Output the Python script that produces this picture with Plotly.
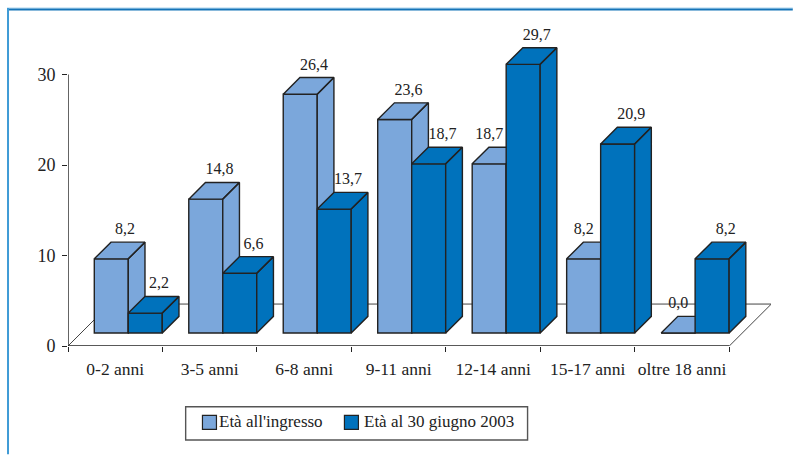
import plotly.graph_objects as go

# --- data ---
categories = ["0-2 anni", "3-5 anni", "6-8 anni", "9-11 anni", "12-14 anni", "15-17 anni", "oltre 18 anni"]
eta_ingresso = [8.2, 14.8, 26.4, 23.6, 18.7, 8.2, 0.0]
eta_giugno = [2.2, 6.6, 13.7, 18.7, 29.7, 20.9, 8.2]
y_ticks = [0, 10, 20, 30]
series_names = ["Età all'ingresso", "Età al 30 giugno 2003"]

# --- style / geometry ---
W, H = 793, 455
L, R, T, B = 68, 21.8, 20, 108.5
PW, PH = W - L - R, H - T - B
PX_X = 94.5          # px per category
PX_Y = 9.06          # px per value unit
XMAX, YMAX = PW / PX_X, PH / PX_Y
LIGHT, DARK, INK = "#7BA7DB", "#0072BC", "#222222"
FONT = "Liberation Serif"
BW = 34 / PX_X
DX, DY = 16.7 / PX_X, 16.7 / PX_Y          # bar depth in axis units
BASE = 13 / PX_Y                           # front of bars above the axis
START = 26.3 / PX_X                        # first bar's left edge within a category
FLOOR_DX, FLOOR_DY = 42 / PX_X, 42 / PX_Y


def faces(lefts, values):
    xs, ys = [], []
    for x0, v in zip(lefts, values):
        x1, top = x0 + BW, BASE + v
        xs += [x0, x1, x1 + DX, x0 + DX, x0, None]
        ys += [top, top, top + DY, top + DY, top, None]
        xs += [x1, x1 + DX, x1 + DX, x1, x1, None]
        ys += [BASE, BASE + DY, top + DY, top, BASE, None]
    return xs, ys


n = range(len(categories))
left_a = [i + START for i in n]
left_b = [i + START + BW for i in n]

fig = go.Figure()


def add_series(lefts, values, color, name, xa, ya):
    fig.add_trace(go.Bar(
        x=[l + BW / 2 for l in lefts], y=values, base=BASE, width=BW, name=name,
        marker=dict(color=color, line=dict(color=INK, width=1.4)), showlegend=False,
        xaxis=xa, yaxis=ya, hoverinfo="skip"))
    xs, ys = faces(lefts, values)
    fig.add_trace(go.Scatter(
        x=xs, y=ys, mode="lines", fill="toself", fillcolor=color,
        line=dict(color=INK, width=1.4), showlegend=False,
        xaxis=xa, yaxis=ya, hoverinfo="skip"))


add_series(left_a, eta_ingresso, LIGHT, series_names[0], "x", "y")
add_series(left_b, eta_giugno, DARK, series_names[1], "x2", "y2")

# value labels sit above the back edge; hidden ones move to the front half
label_x, label_y, label_t = [], [], []
for l, va, vb in zip(left_a, eta_ingresso, eta_giugno):
    shift = 0 if vb > va else DX - 3 / PX_X
    label_x.append(l + BW / 2 + shift)
    label_y.append(BASE + va + DY + 12 / PX_Y)
    label_t.append(f"{va:.1f}".replace(".", ","))
for l, v in zip(left_b, eta_giugno):
    label_x.append(l + BW / 2 + DX - 3 / PX_X)
    label_y.append(BASE + v + DY + 12 / PX_Y)
    label_t.append(f"{v:.1f}".replace(".", ","))
fig.add_trace(go.Scatter(
    x=label_x, y=label_y, text=label_t, mode="text", textposition="middle center",
    textfont=dict(family=FONT, size=16, color=INK), showlegend=False,
    xaxis="x2", yaxis="y2", hoverinfo="skip"))

n_cat = len(categories)
floor_line = dict(color="#444444", width=1)
axis_line = dict(color=INK, width=1.4)
shapes = [
    dict(type="line", xref="x", yref="y", layer="below", x0=0, y0=0, x1=FLOOR_DX, y1=FLOOR_DY, line=floor_line),
    dict(type="line", xref="x", yref="y", layer="below", x0=FLOOR_DX, y0=FLOOR_DY, x1=n_cat + FLOOR_DX, y1=FLOOR_DY, line=floor_line),
    dict(type="line", xref="x", yref="y", layer="below", x0=n_cat, y0=0, x1=n_cat + FLOOR_DX, y1=FLOOR_DY, line=floor_line),
    dict(type="line", xref="x", yref="y", layer="below", x0=0, y0=0, x1=n_cat, y1=0, line=axis_line),
    dict(type="line", xref="x", yref="y", layer="below", x0=0, y0=0, x1=0, y1=y_ticks[-1], line=axis_line),
]


def px(x):
    return (x - L) / PW


def py(y):
    return (H - B - y) / PH


# page frame
shapes += [
    dict(type="line", xref="paper", yref="paper", x0=px(7), x1=px(W), y0=py(8), y1=py(8), line=dict(color="#A9D3EE", width=1)),
    dict(type="line", xref="paper", yref="paper", x0=px(7), x1=px(W), y0=py(9.5), y1=py(9.5), line=dict(color="#1574B8", width=2)),
    dict(type="line", xref="paper", yref="paper", x0=px(8), x1=px(8), y0=py(8), y1=py(H), line=dict(color="#3F9BD6", width=2)),
]

# legend box
shapes.append(dict(type="rect", xref="paper", yref="paper", x0=px(185.7), x1=px(527.7), y0=py(407.3), y1=py(440.7),
                   line=dict(color="#555555", width=1.4), fillcolor="white"))
swatch_x = [202.5, 344.5]
legend_text_x = [271, 439.5]
annotations = []
for sx, tx, col, name in zip(swatch_x, legend_text_x, [LIGHT, DARK], series_names):
    shapes.append(dict(type="rect", xref="paper", yref="paper", x0=px(sx), x1=px(sx + 14), y0=py(416), y1=py(430),
                       line=dict(color=INK, width=1.2), fillcolor=col))
    annotations.append(dict(xref="paper", yref="paper", x=px(tx), y=py(422.5), xanchor="center", yanchor="middle",
                            text=name, showarrow=False, font=dict(family=FONT, size=17, color=INK)))

tickfont = dict(family=FONT, size=18, color=INK)
fig.update_layout(
    width=W, height=H, margin=dict(l=L, r=R, t=T, b=B, pad=0),
    paper_bgcolor="white", plot_bgcolor="rgba(0,0,0,0)",
    barmode="overlay", shapes=shapes, annotations=annotations, hovermode=False, showlegend=False,
    xaxis=dict(range=[0, XMAX], tickvals=list(range(n_cat + 1)), ticktext=[""] * (n_cat + 1),
               ticks="outside", ticklen=5, tickwidth=1.2, tickcolor=INK,
               showgrid=False, zeroline=False, showline=False),
    yaxis=dict(range=[0, YMAX], tickvals=y_ticks, ticks="outside", ticklen=5, tickwidth=1.2,
               tickcolor=INK, tickfont=tickfont, ticklabelstandoff=3,
               showgrid=False, zeroline=False, showline=False),
    xaxis2=dict(range=[0, XMAX], overlaying="x", anchor="y2", side="bottom",
                tickvals=[i + 0.5 for i in n], ticktext=categories, ticks="",
                ticklabelstandoff=10, tickfont=dict(family=FONT, size=17.5, color=INK),
                showgrid=False, zeroline=False, showline=False),
    yaxis2=dict(range=[0, YMAX], overlaying="y", anchor="x2", showticklabels=False, ticks="",
                showgrid=False, zeroline=False, showline=False),
)

fig.write_html("out.html", config={"displayModeBar": False}, post_script="document.body.style.margin='0';")
